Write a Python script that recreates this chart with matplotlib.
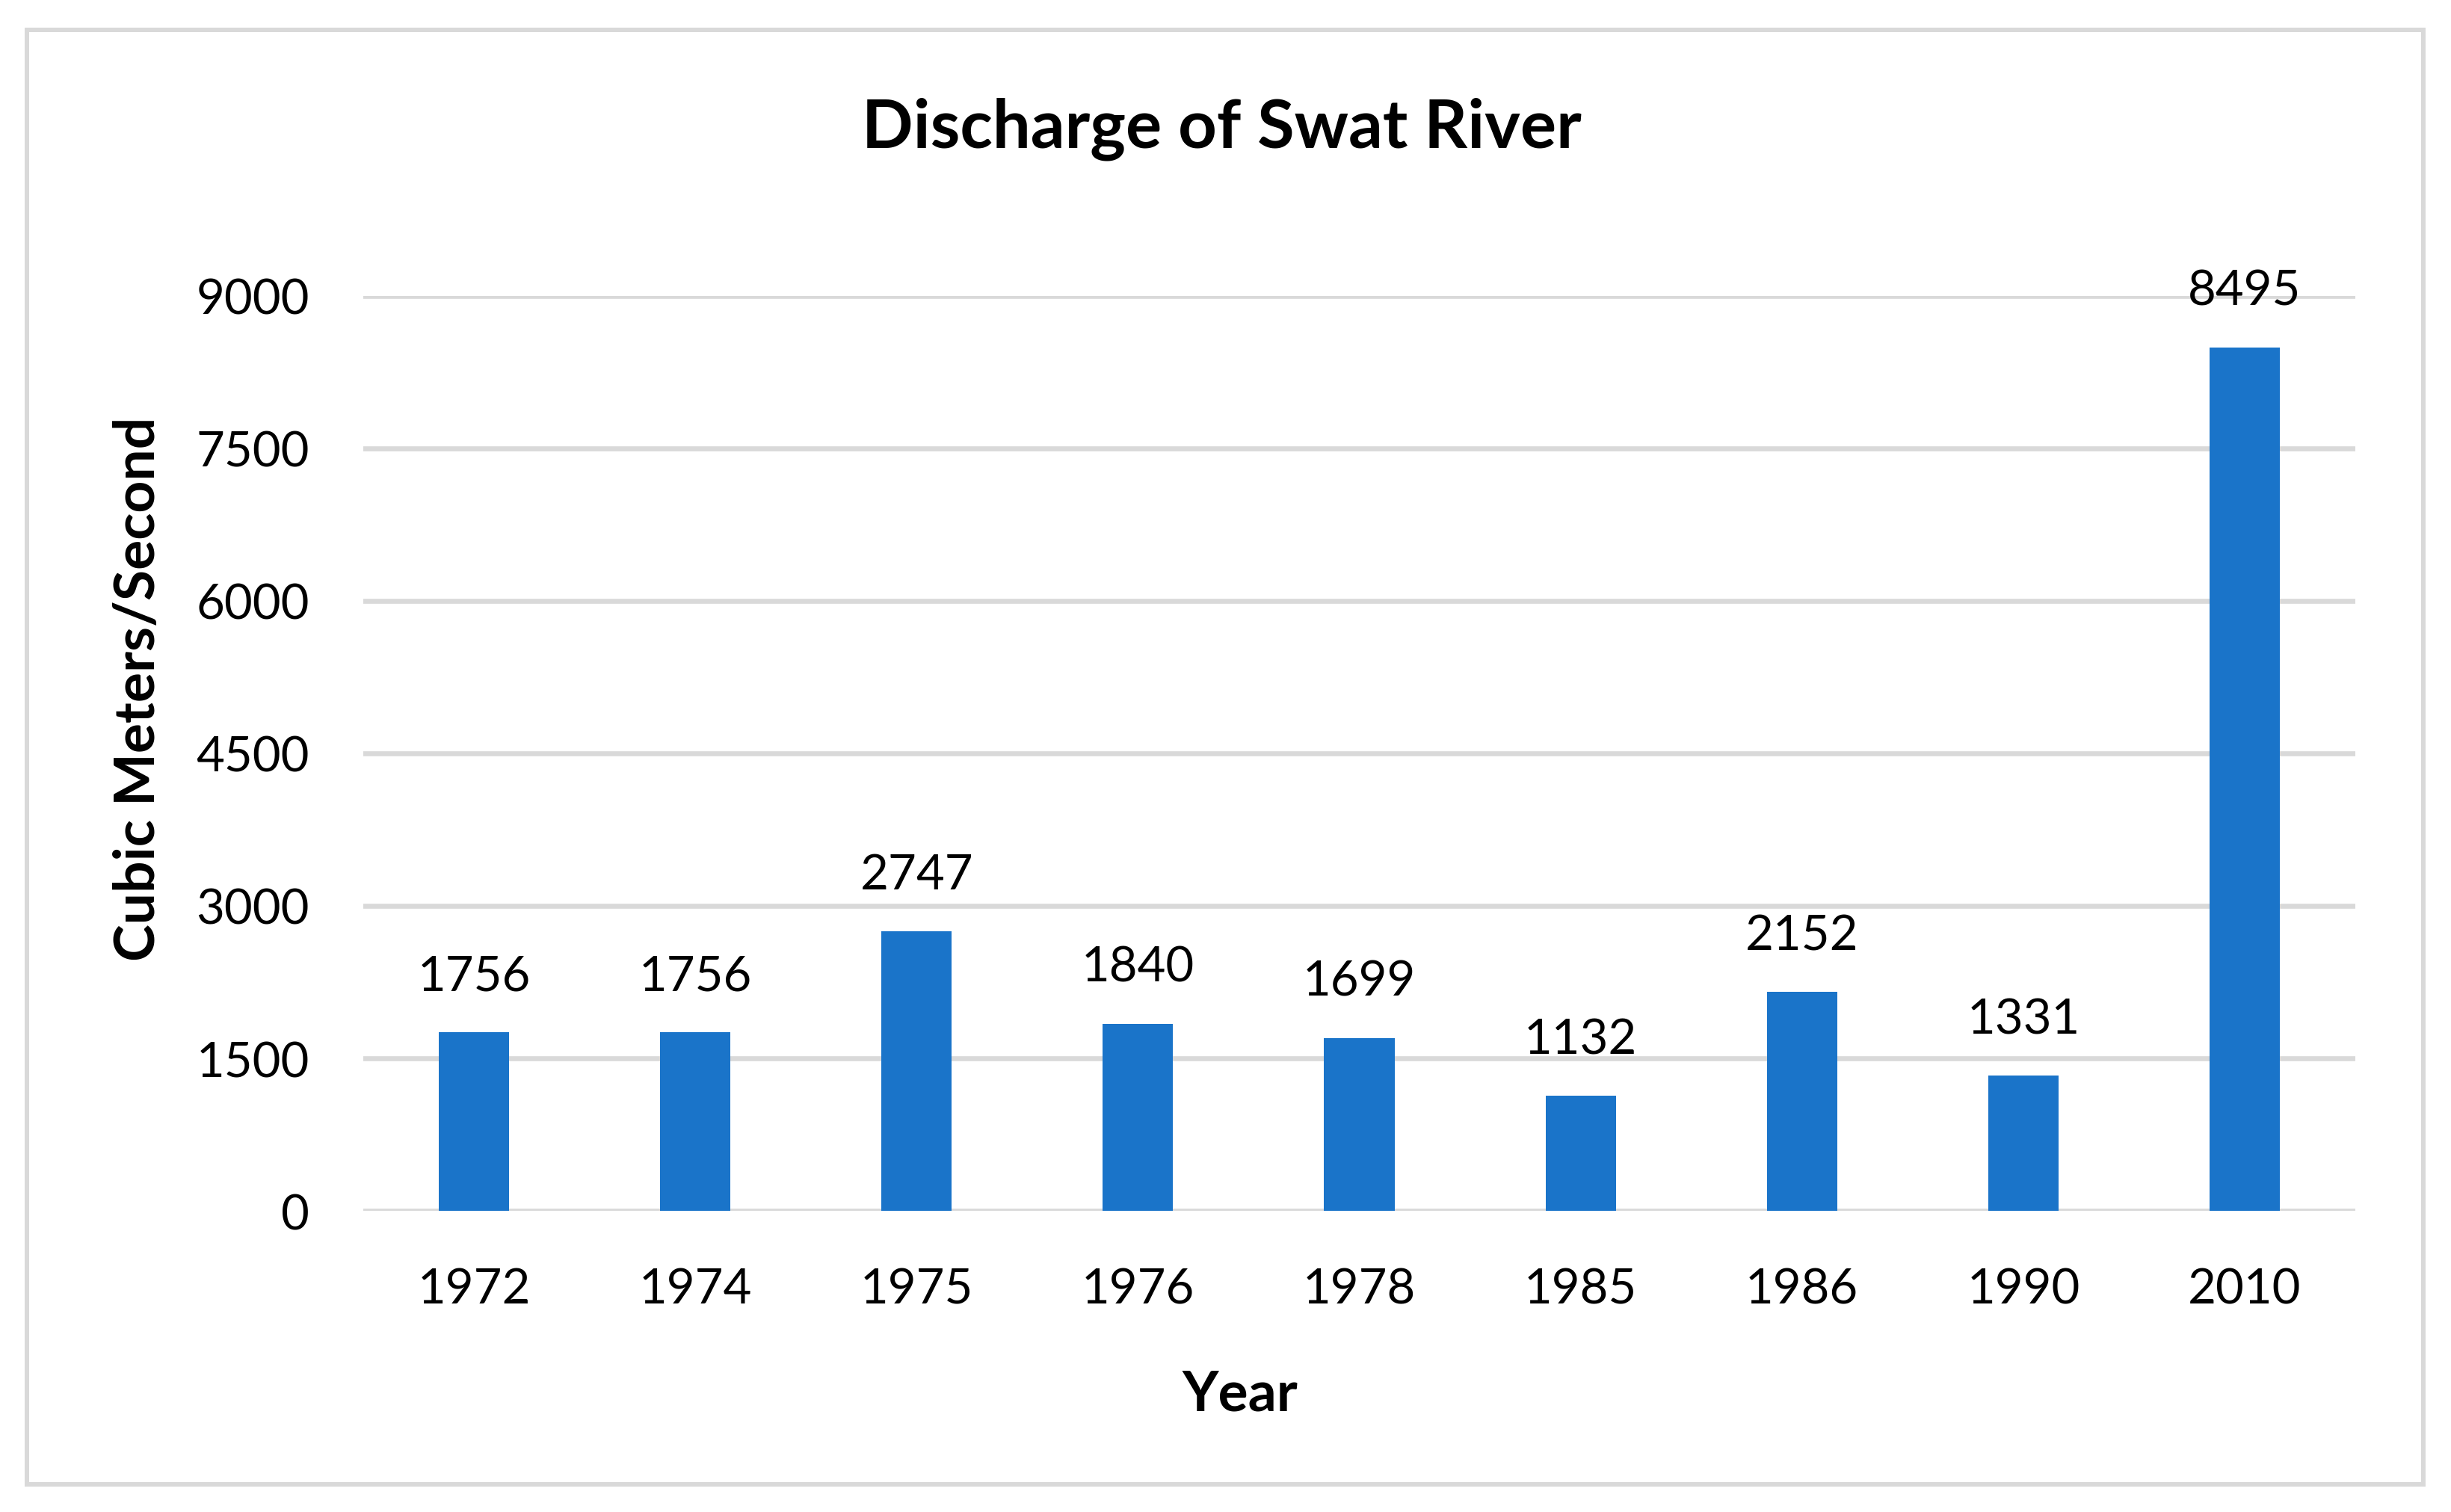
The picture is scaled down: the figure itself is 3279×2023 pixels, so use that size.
import matplotlib
matplotlib.use('Agg')
import matplotlib.pyplot as plt
from matplotlib.patches import Rectangle

# data
years = ['1972', '1974', '1975', '1976', '1978', '1985', '1986', '1990', '2010']
discharge = [1756, 1756, 2747, 1840, 1699, 1132, 2152, 1331, 8495]
yticks = [0, 1500, 3000, 4500, 6000, 7500, 9000]

plt.rcParams['font.family'] = ['Lato', 'DejaVu Sans']

fig = plt.figure(figsize=(32.79, 20.24), dpi=100)
ax = fig.add_axes([0.1482, 0.1991, 0.9610 - 0.1482, 0.8039 - 0.1991])

x = range(len(years))
bars = ax.bar(x, discharge, width=0.318, color='#1a74c9', zorder=3)
for i, v in enumerate(discharge):
    ax.annotate(str(v), (i, v), xytext=(0, 41), textcoords='offset points',
                ha='center', va='baseline', fontsize=47, color='black')

ax.set_xlim(-0.5, len(years) - 0.5)
ax.set_ylim(0, 9000)
ax.set_yticks(yticks)
ax.set_xticks(list(x))
ax.set_xticklabels(years)
ax.tick_params(axis='both', length=0, labelsize=47, colors='black')
ax.tick_params(axis='x', pad=54)
ax.tick_params(axis='y', pad=52)
ax.yaxis.grid(True, color='#d9d9d9', lw=4.8, zorder=0)
for s in ax.spines.values():
    s.set_visible(False)

fig.text(0.4985, 0.9022, 'Discharge of Swat River', ha='center', va='baseline',
         fontsize=65, fontweight='bold')
fig.text(0.506, 0.0672, 'Year', ha='center', va='baseline',
         fontsize=54, fontweight='bold')
fig.text(0.0631, 0.5445, 'Cubic Meters/Second', rotation=90, rotation_mode='anchor',
         ha='center', va='baseline', fontsize=54, fontweight='bold')

# chart border
fig.patches.append(Rectangle((36 / 3279, 1 - 1987 / 2024), (3242 - 36) / 3279, (1987 - 41) / 2024,
                             transform=fig.transFigure, fill=False,
                             edgecolor='#d9d9d9', lw=4.3))

fig.savefig('out.png', dpi=100, facecolor='white')
